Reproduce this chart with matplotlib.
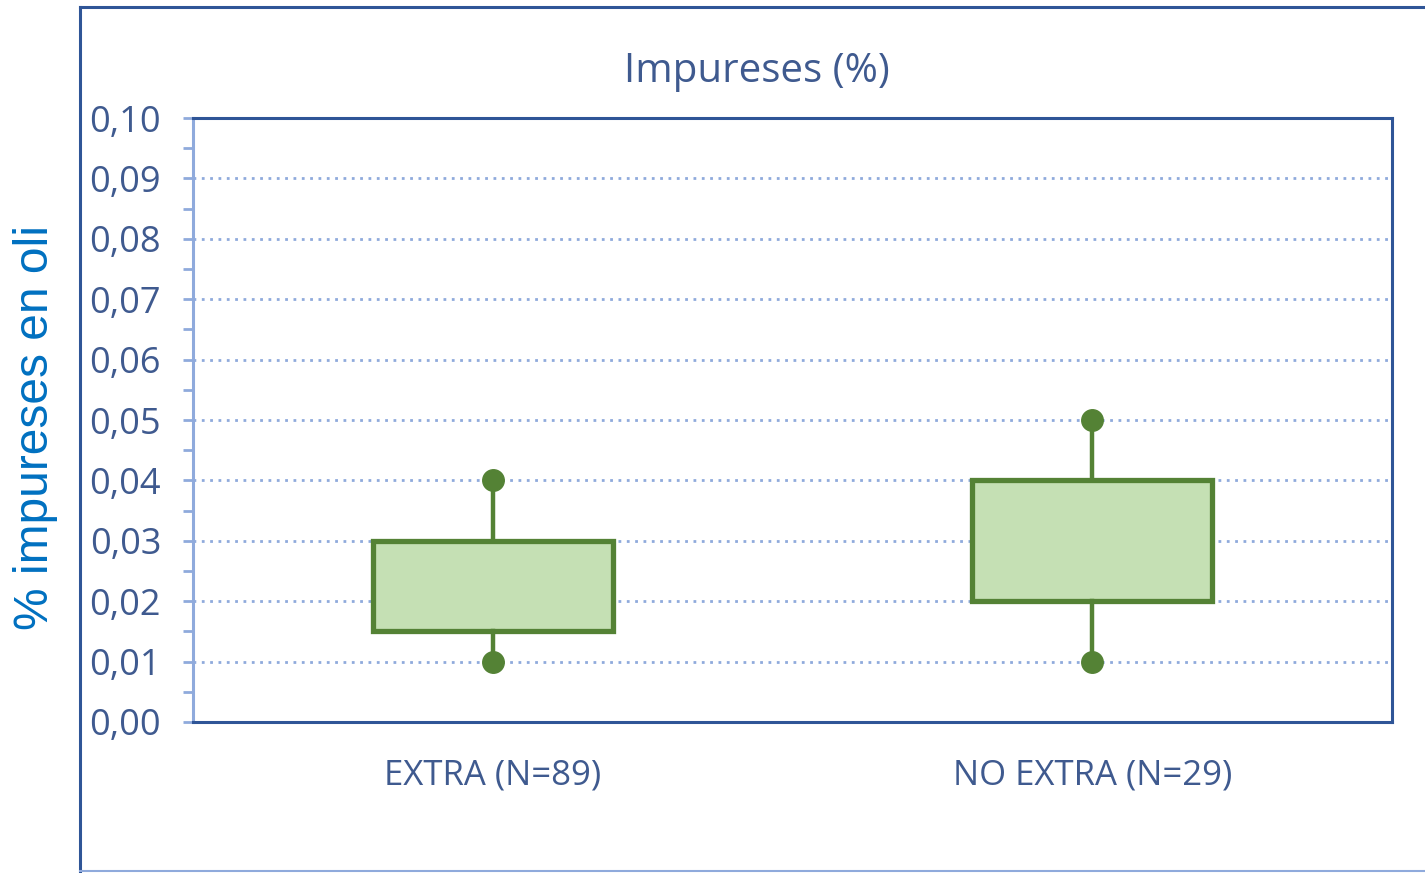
import numpy as np
import matplotlib.pyplot as plt
from matplotlib.lines import Line2D
from matplotlib.ticker import MultipleLocator, FuncFormatter

# dades del gràfic
categories = ['EXTRA (N=89)', 'NO EXTRA (N=29)']
whisker_low = [0.01, 0.01]
q1 = [0.015, 0.02]
q3 = [0.03, 0.04]
whisker_high = [0.04, 0.05]

text_col = '#3f5a8f'
dark_blue = '#2f5597'
light_blue = '#8faadc'
green = '#548235'
fill_green = '#c5e0b4'

plt.rcParams['font.family'] = ['Open Sans', 'DejaVu Sans']

fig = plt.figure(figsize=(14.25, 8.73), dpi=100)
ax = fig.add_axes([0.1354, 0.1730, 0.8414, 0.6918])

positions = np.arange(len(categories)) + 0.5
stats = []
for i, cat in enumerate(categories):
    stats.append({'label': cat, 'whislo': whisker_low[i], 'q1': q1[i],
                  'med': q1[i], 'q3': q3[i], 'whishi': whisker_high[i]})

ax.bxp(stats, positions=positions, widths=0.4, showfliers=False, showcaps=False,
       patch_artist=True,
       boxprops=dict(facecolor=fill_green, edgecolor=green, linewidth=3.8),
       whiskerprops=dict(color=green, linewidth=3.2),
       medianprops=dict(linewidth=0))
ax.scatter(positions, whisker_low, s=240, color=green, zorder=5)
ax.scatter(positions, whisker_high, s=240, color=green, zorder=5)

ax.set_xlim(0, 2)
ax.set_ylim(0, 0.1)
ax.yaxis.set_major_locator(MultipleLocator(0.01))
ax.yaxis.set_minor_locator(MultipleLocator(0.005))
ax.yaxis.set_major_formatter(FuncFormatter(lambda v, p: f'{v:.2f}'.replace('.', ',')))
ax.set_xticks(positions)
ax.set_xticklabels(categories)

ax.grid(axis='y', color=light_blue, linestyle=(0, (1, 2)), linewidth=2)
ax.set_axisbelow(True)

for s in ['top', 'right', 'bottom']:
    ax.spines[s].set_color(dark_blue)
    ax.spines[s].set_linewidth(2.2)
ax.spines['left'].set_color(light_blue)
ax.spines['left'].set_linewidth(2.2)

ax.tick_params(axis='y', which='both', direction='out', length=7, width=2,
               color=light_blue, labelsize=26, labelcolor=text_col, pad=16)
ax.tick_params(axis='x', length=0, labelsize=25, labelcolor=text_col, pad=26)

fig.text(0.531, 0.918, 'Impureses (%)', ha='center', va='center',
         fontsize=29, color=text_col)

fig.text(0.025, 0.51, '% impureses en oli', rotation=90, ha='center', va='center',
         fontsize=34.5, color='#0070c0', family=['Liberation Sans', 'DejaVu Sans'])

# marc exterior del gràfic
fig.add_artist(Line2D([0.0561, 0.0561], [0.0, 0.992], color=dark_blue, linewidth=2.2))
fig.add_artist(Line2D([0.0561, 1.0], [0.992, 0.992], color=dark_blue, linewidth=2.2))
fig.add_artist(Line2D([0.0561, 1.0], [0.002, 0.002], color=light_blue, linewidth=1.5))

fig.savefig('out.png', dpi=100)
